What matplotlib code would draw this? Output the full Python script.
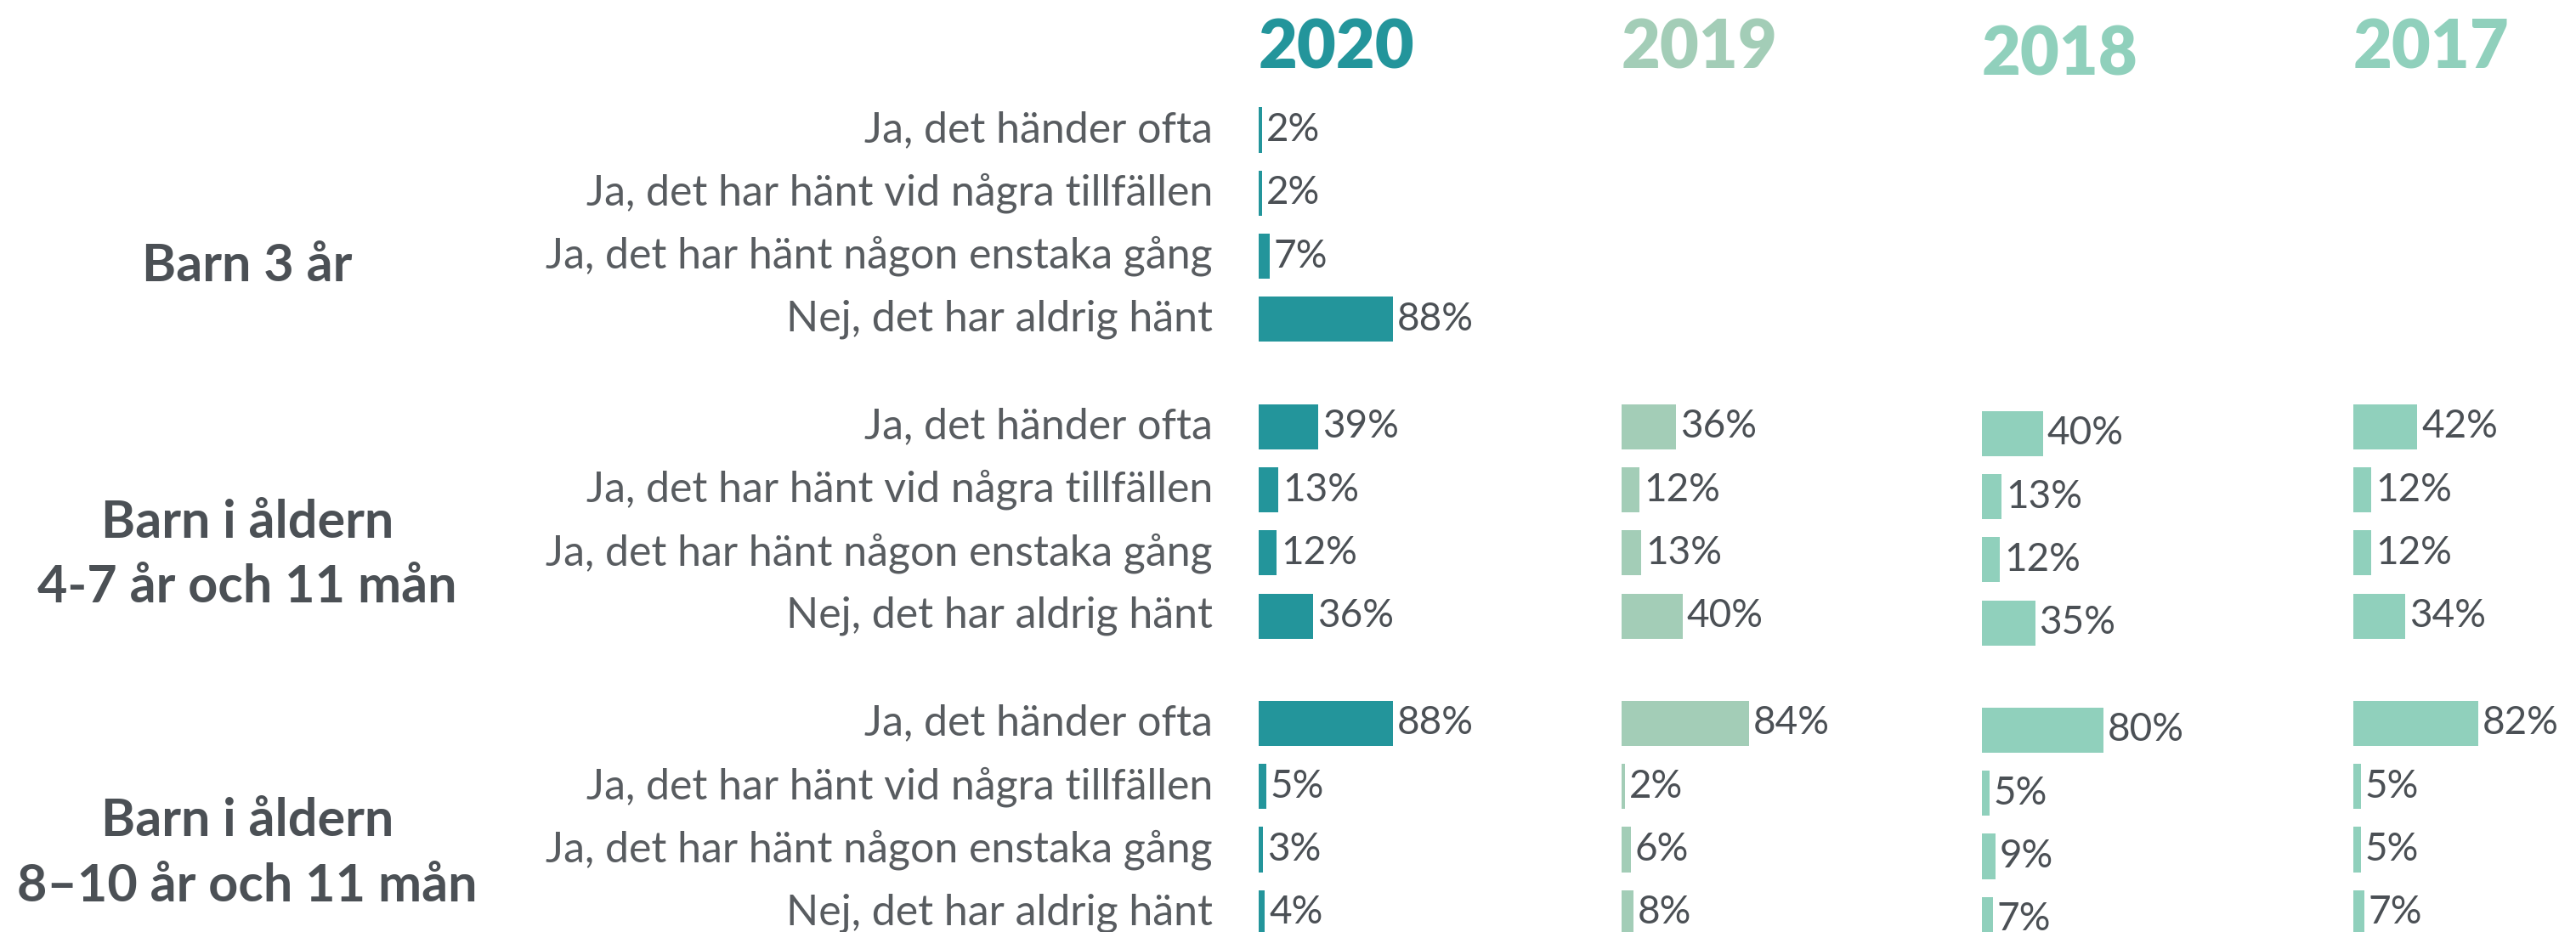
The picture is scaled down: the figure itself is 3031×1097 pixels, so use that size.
import matplotlib
matplotlib.use('Agg')
import matplotlib.pyplot as plt
import matplotlib.transforms as mtransforms

# --- data ---
years = ['2020', '2019', '2018', '2017']
groups = ['Barn 3 år', 'Barn i åldern\n4-7 år och 11 mån', 'Barn i åldern\n8–10 år och 11 mån']
answers = ['Ja, det händer ofta',
           'Ja, det har hänt vid några tillfällen',
           'Ja, det har hänt någon enstaka gång',
           'Nej, det har aldrig hänt']

# en lista per år, 4 svar per grupp (None = ingen data)
v2020 = [2, 2, 7, 88, 39, 13, 12, 36, 88, 5, 3, 4]
v2019 = [None, None, None, None, 36, 12, 13, 40, 84, 2, 6, 8]
v2018 = [None, None, None, None, 40, 13, 12, 35, 80, 5, 9, 7]
v2017 = [None, None, None, None, 42, 12, 12, 34, 82, 5, 5, 7]

# --- style ---
W, H = 3031, 1097
TEXT = '#4b5055'
LABEL = '#585c60'
colors = ['#23959b', '#a3cdb7', '#90d0bc', '#90d0bc']
FONT = ['Lato', 'DejaVu Sans']
plt.rcParams['font.family'] = FONT

ROW_PX = 74.3       # avstånd mellan rader i pixlar
TOP_PX = 153        # första radens mitt
PX_PER_PCT = 1.79
col_start = [1481, 1908, 2332, 2769]
col_shift = [0, 0, 8, 0]   # 2018 ligger lite lägre i originalet
group_step = 4.7
group_label_off = [0.65, 0.53, 0.56]

pos = [g * group_step + i for g in range(len(groups)) for i in range(len(answers))]

fig = plt.figure(figsize=(W / 100, H / 100), dpi=100)
fig.patch.set_facecolor('white')

axes = []
for k, (year, vals) in enumerate(zip(years, [v2020, v2019, v2018, v2017])):
    ax = fig.add_axes([col_start[k] / W, 0, 260 / W, 1])
    ax.set_xlim(0, 260 / PX_PER_PCT)
    sh = col_shift[k] / ROW_PX
    ax.set_ylim((H - TOP_PX) / ROW_PX - sh, -TOP_PX / ROW_PX - sh)
    ax.axis('off')
    axes.append(ax)

    ys = [p for p, v in zip(pos, vals) if v is not None]
    xs = [v for v in vals if v is not None]
    ax.barh(ys, xs, height=0.715, color=colors[k], left=0)
    for y, v in zip(ys, xs):
        ax.annotate(f'{v}%', (v, y), xytext=(3.5, 0), textcoords='offset points',
                    ha='left', va='center', fontsize=33, color=TEXT)

    ax.text(0, (57 - TOP_PX) / ROW_PX, year, ha='left', va='center',
            fontsize=57, fontweight='heavy', color=colors[k])

# svarsetiketter och gruppetiketter
trans = mtransforms.blended_transform_factory(fig.transFigure, axes[0].transData)
for p, lab in zip(pos, answers * len(groups)):
    axes[0].text(1427 / W, p, lab, transform=trans, ha='right', va='center',
                 fontsize=36, color=LABEL)

for g, name in enumerate(groups):
    yc = g * group_step + 1.5 + group_label_off[g]
    axes[0].text(291 / W, yc, name, transform=trans, ha='center', va='center',
                 fontsize=44, fontweight='bold', color=TEXT, linespacing=1.45)

fig.savefig('out.png', dpi=100, facecolor='white')
